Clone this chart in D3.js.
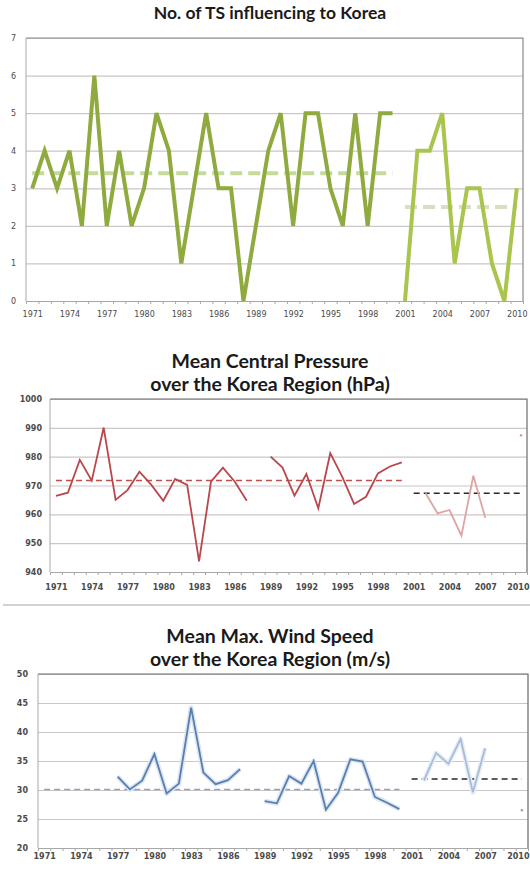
<!DOCTYPE html>
<html>
<head>
<meta charset="utf-8">
<script src="https://cdn.jsdelivr.net/npm/d3@7"></script>
<style>
  body { margin: 0; background: #fff; }
  svg { display: block; }
  .tick text { font-family: "DejaVu Sans", sans-serif; }
</style>
</head>
<body>
<svg id="chart" width="530" height="872"></svg>
<script>
// categories
const years = [1971,1972,1973,1974,1975,1976,1977,1978,1979,1980,1981,1982,1983,1984,1985,1986,1987,1988,1989,1990,
               1991,1992,1993,1994,1995,1996,1997,1998,1999,2000,2001,2002,2003,2004,2005,2006,2007,2008,2009,2010];
const labelYears = [1971,1974,1977,1980,1983,1986,1989,1992,1995,1998,2001,2004,2007,2010];

// No. of TS
const tsYearsA = years.slice(0, 30);   // 1971-2000
const tsA = [3,4,3,4,2,6,2,4,2,3,5,4,1,3,5,3,3,0,2,4,5,2,5,5,3,2,5,2,5,5];
const tsYearsB = years.slice(30);      // 2001-2010
const tsB = [0,4,4,5,1,3,3,1,0,3];
const tsMeans = [3.4, 2.5];
const tsTicks = [0,1,2,3,4,5,6,7];

// Mean central pressure (hPa)
const mcpYearsA = [1971,1972,1973,1974,1975,1976,1977,1978,1979,1980,1981,1982,1983,1984,1985,1986,1987];
const mcpA = [966.4,967.5,978.9,971.7,990.1,965.0,968.4,974.8,970.2,964.7,972.3,970.2,943.7,971.3,976.2,971.3,964.7];
const mcpYearsB = [1989,1990,1991,1992,1993,1994,1995,1996,1997,1998,1999,2000];
const mcpB = [980.0,976.2,966.5,974.0,962.1,981.2,973.1,963.6,966.1,974.2,976.6,978.0];
const mcpYearsC = [2002,2003,2004,2005,2006,2007];
const mcpC = [967.3,960.3,961.5,952.6,973.4,958.8];
const mcp2010 = 987.4;
const mcpMeans = [971.7, 967.3];
const mcpTicks = [940,950,960,970,980,990,1000];

// Mean max wind speed (m/s)
const wsYearsA = [1977,1978,1979,1980,1981,1982,1983,1984,1985,1986,1987];
const wsA = [32.3,30.1,31.6,36.2,29.4,31.1,44.2,33.0,31.0,31.7,33.6];
const wsYearsB = [1989,1990,1991,1992,1993,1994,1995,1996,1997,1998,1999,2000];
const wsB = [28.1,27.7,32.4,31.1,35.0,26.6,29.5,35.3,34.9,28.8,27.8,26.7];
const wsYearsC = [2002,2003,2004,2005,2006,2007];
const wsC = [31.6,36.4,34.5,38.8,29.6,37.2];
const ws2010 = 26.5;
const wsMeans = [30.1, 31.9];
const wsTicks = [20,25,30,35,40,45,50];

const svg = d3.select("#chart");
const zip = (xs, ys) => xs.map((x, i) => ({ year: x, v: ys[i] }));

// separator between panel 2 and 3
svg.append("line")
  .attr("x1", 3).attr("x2", 530).attr("y1", 605).attr("y2", 605)
  .style("stroke", "#d4d0cc").style("stroke-width", 2);

function panel(p) {
  const g = svg.append("g");
  const x = d3.scaleLinear().domain([1970.5, 2010.5]).range([p.left, p.right]);
  const y = d3.scaleLinear().domain(p.domain).range([p.bottom, p.top]);

  // titles
  p.titles.forEach((t, i) => {
    g.append("text")
      .attr("x", 270).attr("y", p.titleY[i])
      .attr("text-anchor", "middle")
      .style("font-family", "Lato, 'Open Sans', sans-serif")
      .style("font-weight", "bold")
      .style("font-size", p.titleSize + "px")
      .style("fill", "#1a1a1a")
      .text(t);
  });

  // gridlines
  g.append("g")
    .attr("transform", `translate(${p.left},0)`)
    .call(d3.axisLeft(y).tickValues(p.ticks).tickSize(-(p.right - p.left)).tickFormat(""))
    .call(a => a.select(".domain").remove())
    .call(a => a.selectAll("line").style("stroke", "#cdc6c6").style("stroke-width", 1.2));

  // border top/right
  g.append("path")
    .attr("d", `M${p.left},${p.top}H${p.right}V${p.bottom}`)
    .style("fill", "none").style("stroke", p.borderColor).style("stroke-width", 1.2);

  // y labels
  g.append("g")
    .attr("transform", `translate(${p.labelX},0)`)
    .call(d3.axisLeft(y).tickValues(p.ticks).tickSize(0).tickPadding(0).tickFormat(d3.format("d")))
    .call(a => a.select(".domain").remove())
    .call(a => a.selectAll("text")
      .style("font-size", p.fontSize + "px")
      .style("font-weight", p.fontWeight)
      .style("fill", "#4a4a4a"));

  // left axis line
  g.append("line")
    .attr("x1", p.left).attr("x2", p.left).attr("y1", p.top).attr("y2", p.bottom)
    .style("stroke", "#a8a8a8");

  // x axis minor ticks at category boundaries
  const bounds = years.map(d => d - 0.5).concat([2010.5]);
  g.append("g")
    .attr("transform", `translate(0,${p.bottom})`)
    .call(d3.axisBottom(x).tickValues(bounds).tickSize(3).tickSizeOuter(0).tickFormat(""))
    .call(a => a.select(".domain").style("stroke", "#a8a8a8"))
    .call(a => a.selectAll(".tick line").style("stroke", "#a8a8a8"));

  // x labels (last one kept inside the page edge)
  g.append("g")
    .attr("transform", `translate(0,${p.xLabelY})`)
    .call(d3.axisBottom(x).tickValues(labelYears).tickSize(0).tickPadding(0).tickFormat(d3.format("d")))
    .call(a => a.select(".domain").remove())
    .call(a => a.selectAll("text")
      .style("font-size", p.fontSize + "px")
      .style("font-weight", p.fontWeight)
      .style("fill", "#4a4a4a"))
    .call(a => a.selectAll(".tick")
      .filter(d => d === 2010 && x(d) + 12 > 530)
      .select("text").attr("text-anchor", "end").attr("x", d => 529 - x(d)));

  const line = d3.line().x(d => x(d.year)).y(d => y(d.v));

  // mean lines
  p.means.forEach(m => {
    g.append("line")
      .attr("x1", x(m.from)).attr("x2", x(m.to))
      .attr("y1", y(m.v)).attr("y2", y(m.v))
      .style("stroke", m.color)
      .style("stroke-width", p.meanWidth)
      .style("stroke-dasharray", p.dash);
  });

  // series
  p.series.forEach(s => {
    if (s.halo) {
      g.append("path").datum(s.data).attr("d", line)
        .style("fill", "none").style("stroke", s.halo)
        .style("stroke-width", p.lineWidth + 3).style("stroke-linejoin", "round");
    }
    g.append("path").datum(s.data).attr("d", line)
      .style("fill", "none").style("stroke", s.color)
      .style("stroke-width", p.lineWidth)
      .style("stroke-linejoin", p.join || "miter");
  });

  // single points
  (p.points || []).forEach(pt => {
    g.append("circle")
      .attr("cx", x(pt.year)).attr("cy", y(pt.v)).attr("r", 1.2)
      .style("fill", pt.color);
  });
}

panel({
  left: 26, right: 523, top: 38, bottom: 301, domain: [0, 7], ticks: tsTicks,
  titles: ["No. of TS influencing to Korea"], titleY: [19], titleSize: 17.5,
  labelX: 16, xLabelY: 311, fontSize: 8, fontWeight: "normal", borderColor: "#8a8a8a",
  lineWidth: 4, meanWidth: 4, dash: "12,6",
  means: [
    { from: 1971, to: 2000, v: tsMeans[0], color: "#c6da9c" },
    { from: 2001, to: 2010, v: tsMeans[1], color: "#d5e2bf" }
  ],
  series: [
    { data: zip(tsYearsA, tsA), color: "#8fab3f" },
    { data: zip(tsYearsB, tsB), color: "#a9c54e" }
  ]
});

panel({
  left: 50, right: 527, top: 399, bottom: 572, domain: [940, 1000], ticks: mcpTicks,
  titles: ["Mean Central Pressure", "over the Korea Region (hPa)"], titleY: [368, 391], titleSize: 19.5,
  labelX: 42, xLabelY: 584, fontSize: 8, fontWeight: "bold", borderColor: "#6a6a6a",
  lineWidth: 1.8, meanWidth: 1.5, dash: "6,4",
  means: [
    { from: 1971, to: 2000, v: mcpMeans[0], color: "#c0504d" },
    { from: 2001, to: 2010, v: mcpMeans[1], color: "#2a2a2a" }
  ],
  series: [
    { data: zip(mcpYearsA, mcpA), color: "#b9474c" },
    { data: zip(mcpYearsB, mcpB), color: "#b9474c" },
    { data: zip(mcpYearsC, mcpC), color: "#dea3a3" }
  ],
  points: [{ year: 2010, v: mcp2010, color: "#d88a8a" }]
});

panel({
  left: 38, right: 528, top: 674, bottom: 848, domain: [20, 50], ticks: wsTicks,
  titles: ["Mean Max. Wind Speed", "over the Korea Region (m/s)"], titleY: [643, 666], titleSize: 19.5,
  labelX: 28, xLabelY: 853, fontSize: 8, fontWeight: "bold", borderColor: "#6a6a6a",
  lineWidth: 1.8, meanWidth: 1.5, dash: "6,4",
  means: [
    { from: 1971, to: 2000, v: wsMeans[0], color: "#8aa3c2" },
    { from: 2001, to: 2010, v: wsMeans[1], color: "#2a2a2a" }
  ],
  series: [
    { data: zip(wsYearsA, wsA), color: "#5a7eae", halo: "#dbe6f3" },
    { data: zip(wsYearsB, wsB), color: "#5a7eae", halo: "#dbe6f3" },
    { data: zip(wsYearsC, wsC), color: "#a7bcd9", halo: "#e6edf6" }
  ],
  points: [{ year: 2010, v: ws2010, color: "#8aa0c0" }]
});
</script>
</body>
</html>
